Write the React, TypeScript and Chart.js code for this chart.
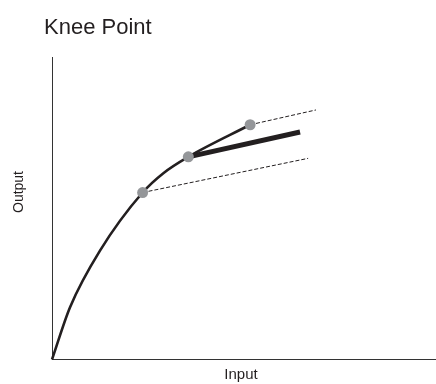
import React, { useEffect, useRef } from "react";
import { Chart, registerables } from "chart.js";

Chart.register(...registerables);

const titleText = "Knee Point";
const xLabel = "Input";
const yLabel = "Output";

const curveX = [0, 4.7, 12.5, 23.6, 29, 35.5, 51.6];
const curveY = [0, 17.3, 36.0, 55.2, 61.6, 67.0, 77.6];

const kneeX = [23.6, 35.5, 51.6];
const kneeY = [55.2, 67.0, 77.6];

const thickX = [35.5, 64.6];
const thickY = [67.0, 75.2];

const dashLowX = [23.6, 66.7];
const dashLowY = [55.2, 66.5];

const dashHighX = [51.6, 68.75];
const dashHighY = [77.6, 82.5];

const zip = (xs: number[], ys: number[]) => xs.map((x, i) => ({ x, y: ys[i] }));

const INK = "#231f20";
const FONT = "'Liberation Sans', Arial, sans-serif";

const textPlugin = {
  id: "texts",
  afterDraw(chart: any) {
    const { ctx } = chart;
    ctx.save();
    ctx.fillStyle = INK;
    ctx.font = `22px ${FONT}`;
    ctx.textAlign = "left";
    ctx.textBaseline = "alphabetic";
    ctx.fillText(titleText, 44, 34);
    ctx.font = `15px ${FONT}`;
    ctx.textAlign = "center";
    ctx.fillText(xLabel, 241, 379);
    ctx.translate(23, 192);
    ctx.rotate(-Math.PI / 2);
    ctx.font = `14px ${FONT}`;
    ctx.fillText(yLabel, 0, 0);
    ctx.restore();
  },
};

export default function App() {
  const ref = useRef<HTMLCanvasElement>(null);
  useEffect(() => {
    if (!ref.current) return;
    const chart = new Chart(ref.current, {
      type: "line",
      data: {
        datasets: [
          {
            label: "knee",
            data: zip(kneeX, kneeY),
            showLine: false,
            pointRadius: 5.5,
            pointBackgroundColor: "#949699",
            pointBorderWidth: 0,
            borderColor: "#949699",
            order: 0,
          },
          {
            label: "curve",
            data: zip(curveX, curveY),
            borderColor: INK,
            borderWidth: 2.6,
            pointRadius: 0,
            cubicInterpolationMode: "monotone",
            order: 1,
          },
          {
            label: "thick",
            data: zip(thickX, thickY),
            borderColor: INK,
            borderWidth: 5,
            pointRadius: 0,
            borderCapStyle: "butt",
            order: 2,
          },
          {
            label: "dashLow",
            data: zip(dashLowX, dashLowY),
            borderColor: INK,
            borderWidth: 1,
            borderDash: [4, 2],
            pointRadius: 0,
            order: 3,
          },
          {
            label: "dashHigh",
            data: zip(dashHighX, dashHighY),
            borderColor: INK,
            borderWidth: 1,
            borderDash: [4, 2],
            pointRadius: 0,
            order: 4,
          },
        ],
      },
      options: {
        animation: false,
        responsive: false,
        maintainAspectRatio: false,
        clip: false as any,
        layout: { autoPadding: false, padding: { left: 52, top: 57, right: 0, bottom: 24.5 } },
        plugins: {
          legend: { display: false },
          tooltip: { enabled: false },
          title: { display: false },
        },
        scales: {
          x: {
            type: "linear",
            min: 0,
            max: 100,
            ticks: { display: false },
            grid: { display: false },
            border: { display: true, color: "#333", width: 1 },
            afterFit: (s: any) => {
              s.height = 0;
            },
          },
          y: {
            type: "linear",
            min: 0,
            max: 100,
            ticks: { display: false },
            grid: { display: false },
            border: { display: true, color: "#333", width: 1 },
            afterFit: (s: any) => {
              s.width = 0;
            },
          },
        },
      },
      plugins: [textPlugin],
    });
    return () => chart.destroy();
  }, []);
  return (
    <div style={{ position: "fixed", left: 0, top: 0, width: 436, height: 384, background: "#fff" }}>
      <canvas ref={ref} width={436} height={384} style={{ display: "block" }} />
    </div>
  );
}
